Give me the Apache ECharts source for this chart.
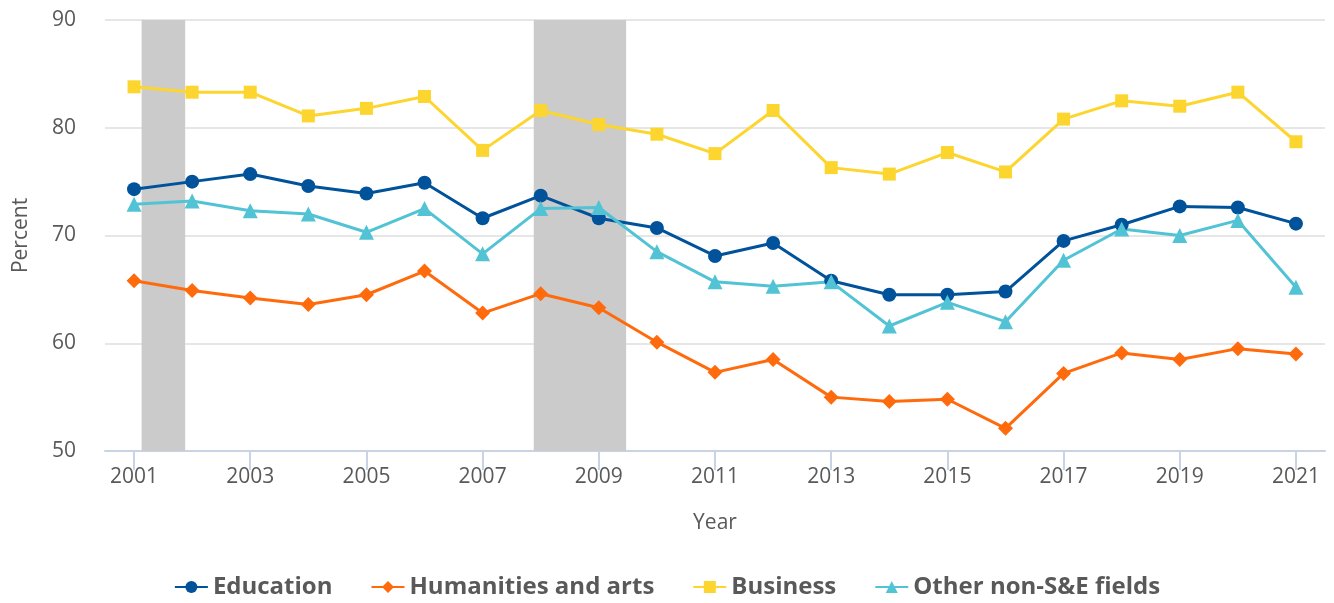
<!DOCTYPE html>
<html lang="en">
<head>
  <meta charset="utf-8">
  <title>Percent by field</title>
  <script src="https://cdn.jsdelivr.net/npm/echarts@6/dist/echarts.min.js"></script>
  <style>
    * { margin: 0; padding: 0; }
    html, body, #chart { width: 100%; height: 100%; overflow: hidden; background: #fff; }
  </style>
</head>
<body>
  <div id="chart"></div>
  <script>
    var years = ['2001', '2002', '2003', '2004', '2005', '2006', '2007', '2008', '2009', '2010',
                 '2011', '2012', '2013', '2014', '2015', '2016', '2017', '2018', '2019', '2020', '2021'];
    var education = [74.3, 75.0, 75.7, 74.6, 73.9, 74.9, 71.6, 73.7, 71.6, 70.7,
                     68.1, 69.3, 65.8, 64.5, 64.5, 64.8, 69.5, 71.0, 72.7, 72.6, 71.1];
    var humanities = [65.8, 64.9, 64.2, 63.6, 64.5, 66.7, 62.8, 64.6, 63.3, 60.1,
                      57.3, 58.5, 55.0, 54.6, 54.8, 52.1, 57.2, 59.1, 58.5, 59.5, 59.0];
    var business = [83.8, 83.3, 83.3, 81.1, 81.8, 82.9, 77.9, 81.6, 80.3, 79.4,
                    77.6, 81.6, 76.3, 75.7, 77.7, 75.9, 80.8, 82.5, 82.0, 83.3, 78.7];
    var otherFields = [72.9, 73.2, 72.3, 72.0, 70.3, 72.5, 68.3, 72.5, 72.6, 68.5,
                       65.7, 65.3, 65.7, 61.6, 63.8, 62.0, 67.7, 70.6, 70.0, 71.4, 65.2];
    // recession periods (fractional years)
    var recessions = [[2001.13, 2001.88], [2007.88, 2009.47]];

    var textColor = '#595959';
    var font = '"Open Sans", "Noto Sans", sans-serif';

    function lineSeries(name, data, color, symbol, size) {
      return {
        name: name,
        type: 'line',
        data: data,
        symbol: symbol,
        symbolSize: size,
        itemStyle: { color: color },
        lineStyle: { color: color, width: 3 },
        z: 3
      };
    }

    var option = {
      animation: false,
      grid: { left: 105, right: 9, top: 20, bottom: 152, outerBoundsMode: 'none' },
      legend: {
        bottom: -1,
        left: 'center',
        itemWidth: 33,
        itemHeight: 15,
        itemGap: 38,
        textStyle: { color: textColor, fontFamily: font, fontSize: 24, fontWeight: 'bold' },
        data: ['Education', 'Humanities and arts', 'Business', 'Other non-S&E fields']
      },
      xAxis: [{
        type: 'category',
        data: years,
        boundaryGap: true,
        name: 'Year',
        nameLocation: 'middle',
        nameGap: 62,
        nameTextStyle: { color: textColor, fontFamily: font, fontSize: 21 },
        axisLine: { lineStyle: { color: '#c8d3e6', width: 2 } },
        axisTick: { show: true, interval: 1, alignWithLabel: true, length: 19, lineStyle: { color: '#c8d3e6', width: 2 } },
        axisLabel: { interval: 1, color: textColor, fontFamily: font, fontSize: 21, margin: 16 },
        splitLine: { show: false }
      }, {
        type: 'value',
        min: 2000.5,
        max: 2021.5,
        show: false
      }],
      yAxis: {
        type: 'value',
        min: 50,
        max: 90,
        interval: 10,
        name: 'Percent',
        nameLocation: 'middle',
        nameGap: 73,
        nameTextStyle: { color: textColor, fontFamily: font, fontSize: 21 },
        axisLine: { show: false },
        axisTick: { show: false },
        axisLabel: { color: textColor, fontFamily: font, fontSize: 21, margin: 29 },
        splitLine: { lineStyle: { color: '#e6e6e6', width: 2 } }
      },
      series: [
        {
          name: 'recession',
          type: 'line',
          xAxisIndex: 1,
          data: [],
          silent: true,
          markArea: {
            silent: true,
            itemStyle: { color: '#cbcbcb' },
            data: recessions.map(function (r) { return [{ xAxis: r[0] }, { xAxis: r[1] }]; })
          },
          z: 1
        },
        lineSeries('Education', education, '#00529b', 'circle', 14),
        lineSeries('Humanities and arts', humanities, '#ff6a0d', 'diamond', 15),
        lineSeries('Business', business, '#fdd52f', 'rect', 13),
        lineSeries('Other non-S&E fields', otherFields, '#51c3d5', 'triangle', 15)
      ]
    };

    var chart = echarts.init(document.getElementById('chart'));
    chart.setOption(option);
  </script>
</body>
</html>
